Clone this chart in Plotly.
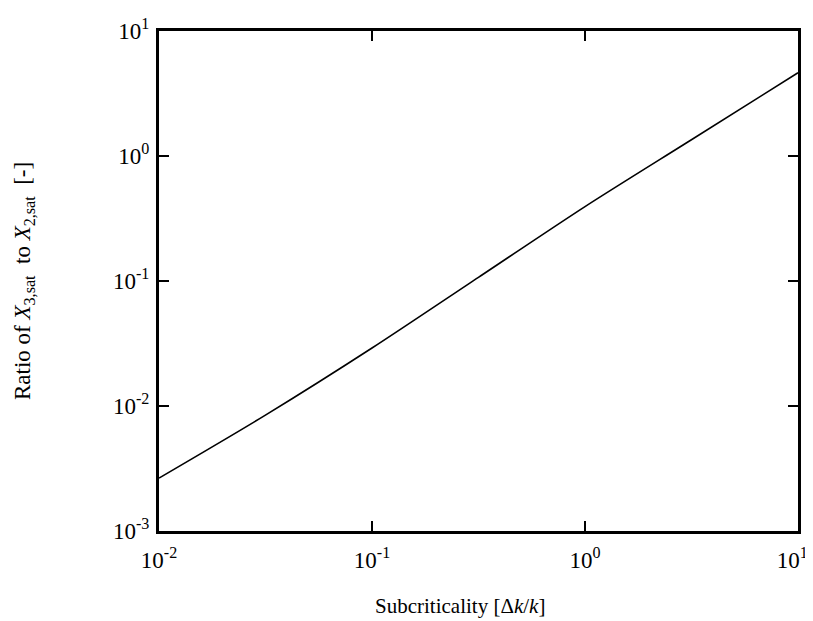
import plotly.graph_objects as go

# Data (log-log, nearly straight line)
subcriticality = [0.01, 0.0316, 0.1, 0.316, 1.0, 3.16, 10.0]
ratio_x3_x2 = [0.00265, 0.00845, 0.0291, 0.107, 0.394, 1.35, 4.63]

x_tick_vals = [0.01, 0.1, 1, 10]
x_tick_text = ["10<sup>-2</sup>", "10<sup>-1</sup>", "10<sup>0</sup>", "10<sup>1</sup>\u00a0\u00a0"]
y_tick_vals = [0.001, 0.01, 0.1, 1, 10]
y_tick_text = ["10<sup>-3</sup>", "10<sup>-2</sup>", "10<sup>-1</sup>", "10<sup>0</sup>", "10<sup>1</sup>"]

x_title = "Subcriticality [Δ<i>k</i>/<i>k</i>]"
y_title = "Ratio of <i>X</i><sub>3,sat</sub>\u00a0 to <i>X</i><sub>2,sat</sub>\u00a0 [-]"

font_family = "Liberation Serif, Times New Roman, serif"

# page has an 8px body margin; figure offset by 8px inside the window
W, H = 813, 613
L, R, T, B = 151, 23, 23, 90
PW, PH = W - L - R, H - T - B


def px_to_paper(page_x, page_y):
    fx, fy = page_x - 8, page_y - 8
    return (fx - L) / PW, 1 - (fy - T) / PH


fig = go.Figure()
fig.add_trace(go.Scatter(
    x=subcriticality, y=ratio_x3_x2, mode="lines",
    line=dict(color="black", width=1.6, shape="spline", smoothing=0.8),
    showlegend=False,
))

axis_common = dict(
    showgrid=False, zeroline=False, showline=True, linecolor="black", linewidth=3,
    mirror="ticks", ticks="inside", ticklen=10, tickwidth=2, tickcolor="black",
    tickfont=dict(family=font_family, size=23, color="black"),
    ticklabeloverflow="allow",
)

fig.update_xaxes(type="log", range=[-2, 1], tickvals=x_tick_vals, ticktext=x_tick_text,
                 ticklabelstandoff=6, **axis_common)
fig.update_yaxes(type="log", range=[-3, 1], tickvals=y_tick_vals, ticktext=y_tick_text,
                 ticklabelstandoff=2, **axis_common)

xt_x, xt_y = px_to_paper(460, 606)
yt_x, yt_y = px_to_paper(24, 281)
fig.add_annotation(text=x_title, xref="paper", yref="paper", x=xt_x, y=xt_y,
                   xanchor="center", yanchor="middle", showarrow=False,
                   font=dict(family=font_family, size=21, color="black"))
fig.add_annotation(text=y_title, xref="paper", yref="paper", x=yt_x, y=yt_y,
                   xanchor="center", yanchor="middle", showarrow=False, textangle=-90,
                   font=dict(family=font_family, size=23, color="black"))

fig.update_layout(
    width=W, height=H,
    margin=dict(l=L, r=R, t=T, b=B, autoexpand=False),
    plot_bgcolor="white", paper_bgcolor="white",
    font=dict(family=font_family, color="black"),
)

fig.write_html("out.html")
